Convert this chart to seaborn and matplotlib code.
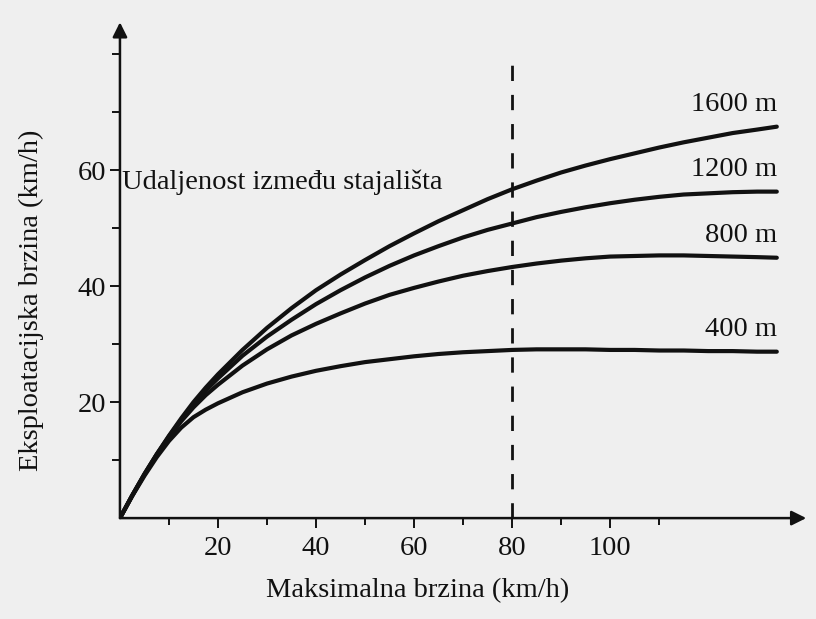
import matplotlib
matplotlib.use("Agg")
import matplotlib.pyplot as plt
import seaborn as sns
import pandas as pd

# maximum speed (km/h) sampled along each curve
max_speed = [0, 2.5, 5, 7.5, 10, 12.5, 15, 17.5, 20, 25, 30, 35, 40, 45, 50, 55, 60, 65,
             70, 75, 80, 85, 90, 95, 100, 105, 110, 115, 120, 125, 130, 134]

# operating speed (km/h) for each stop spacing
v_400 = [0, 3.8, 7.3, 10.5, 13.3, 15.6, 17.4, 18.7, 19.8, 21.7, 23.2, 24.4, 25.4, 26.2, 26.9, 27.4,
         27.9, 28.3, 28.6, 28.8, 29.0, 29.1, 29.1, 29.1, 29.0, 29.0, 28.9, 28.9, 28.8, 28.8, 28.7, 28.7]
v_800 = [0, 3.9, 7.5, 10.9, 13.9, 16.7, 19.1, 21.2, 23.0, 26.3, 29.1, 31.5, 33.5, 35.3, 37.0, 38.5,
         39.7, 40.8, 41.8, 42.6, 43.3, 43.9, 44.4, 44.8, 45.1, 45.2, 45.3, 45.3, 45.2, 45.1, 45.0, 44.9]
v_1200 = [0, 3.9, 7.6, 11.0, 14.1, 17.0, 19.7, 22.0, 24.1, 28.0, 31.3, 34.2, 36.9, 39.3, 41.5, 43.5,
          45.3, 46.9, 48.4, 49.7, 50.8, 51.9, 52.8, 53.6, 54.3, 54.9, 55.4, 55.8, 56.0, 56.2, 56.3, 56.3]
v_1600 = [0, 3.9, 7.6, 11.0, 14.2, 17.2, 20.0, 22.5, 24.8, 29.0, 32.8, 36.2, 39.3, 42.0, 44.5, 46.9,
          49.1, 51.2, 53.1, 55.0, 56.7, 58.2, 59.6, 60.8, 61.9, 62.9, 63.9, 64.8, 65.6, 66.4, 67.0, 67.5]

spacings = ["400 m", "800 m", "1200 m", "1600 m"]
series = [v_400, v_800, v_1200, v_1600]

x_major = [20, 40, 60, 80, 100]
x_minor = [10, 30, 50, 70, 90, 110]
y_major = [20, 40, 60]
y_minor = [10, 30, 50, 70, 80]

ref_speed = 80      # dashed reference line
ref_top = 79.3

rows = []
for name, vals in zip(spacings, series):
    for x, y in zip(max_speed, vals):
        rows.append({"max_speed": x, "speed": y, "spacing": name})
df = pd.DataFrame(rows)

sns.set_style("white")
plt.rcParams["font.family"] = ["Liberation Serif", "DejaVu Serif"]
paper = "#efefef"
ink = "#111111"
fs = 20.5

fig = plt.figure(figsize=(8.16, 6.19), dpi=100, facecolor=paper)
ax = fig.add_axes([0.147, 0.163, 0.841, 0.801], facecolor=paper)

sns.lineplot(data=df, x="max_speed", y="speed", units="spacing", estimator=None,
             color=ink, linewidth=3.0, ax=ax, legend=False,
             solid_joinstyle="round", solid_capstyle="round")

ax.vlines(ref_speed, 0, ref_top, colors=ink, linestyles=(0, (5.5, 5)), linewidth=2.0)

# curve labels just above each curve end
for name, vals in zip(spacings, series):
    ax.text(max_speed[-1], vals[-1] + 3.8, name, ha="right", va="center",
            fontsize=fs, color=ink)

ax.text(0.5, 57.9, "Udaljenost između stajališta", ha="left", va="center",
        fontsize=fs, color=ink)

ax.set_xlim(0, 140)
ax.set_ylim(0, 85.5)
for s in ax.spines.values():
    s.set_visible(False)

# axes drawn as arrows
for tip in [(1.0, 0), (0, 1.0)]:
    ax.annotate("", xy=tip, xytext=(0, 0), xycoords="axes fraction",
                arrowprops=dict(arrowstyle="-|>", color=ink, lw=1.8, mutation_scale=22,
                                shrinkA=0, shrinkB=0), annotation_clip=False)

ax.set_xticks(x_major)
ax.set_xticks(x_minor, minor=True)
ax.set_yticks(y_major)
ax.set_yticks(y_minor, minor=True)
ax.tick_params(axis="both", which="both", direction="out", color=ink, width=1.4,
               labelsize=fs, labelcolor=ink, bottom=True, left=True)
ax.tick_params(axis="x", which="major", length=7, pad=6)
ax.tick_params(axis="x", which="minor", length=5)
ax.tick_params(axis="y", which="major", length=7, pad=3)
ax.tick_params(axis="y", which="minor", length=6)

ax.set_xlabel("Maksimalna brzina (km/h)", fontsize=fs, color=ink)
ax.set_ylabel("Eksploatacijska brzina (km/h)", fontsize=fs, color=ink)
ax.xaxis.set_label_coords(0.434, -0.121)
ax.yaxis.set_label_coords(-0.11, 0.44)

fig.savefig("out.png", dpi=100, facecolor=paper)
